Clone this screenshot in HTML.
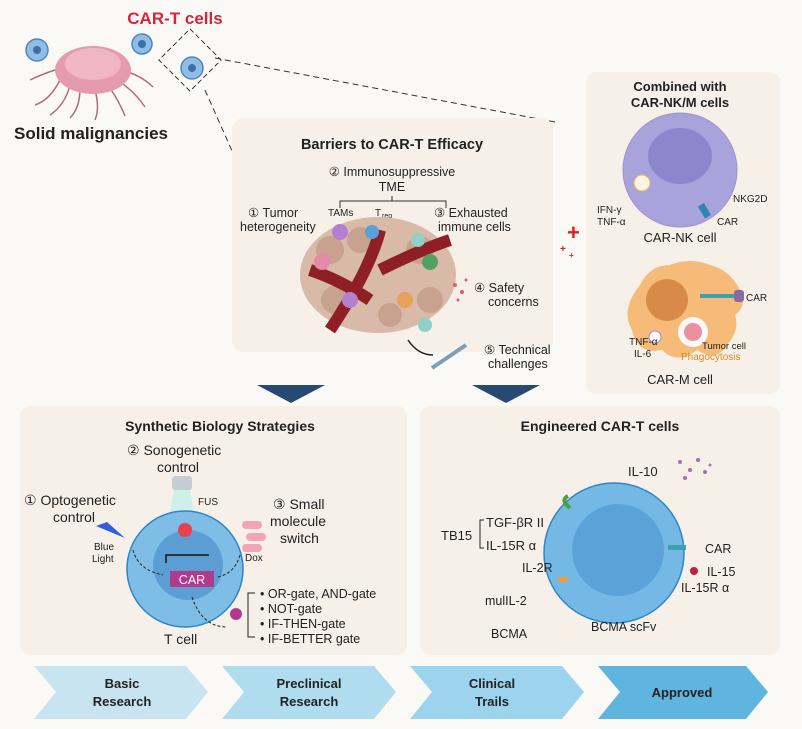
<!DOCTYPE html>
<html><head><meta charset="utf-8"><style>
html,body{margin:0;padding:0;background:#fbf9f5;}
svg{display:block;font-family:"Liberation Sans",sans-serif;}
</style></head><body>
<svg width="802" height="729" viewBox="0 0 802 729">
<rect width="802" height="729" fill="#fbf9f5"/>
<!-- top-left -->
<text x="175" y="24" font-size="17" font-weight="bold" fill="#d3263c" text-anchor="middle">CAR-T cells</text>
<g stroke="#b06a7c" stroke-width="1.5" fill="none">
<path d="M60 80 q-10 20 -25 25 M70 85 q-5 20 -20 30 M80 88 q0 20 -10 30 M95 90 q5 18 0 30 M110 88 q10 15 15 28 M120 82 q15 10 25 25 M128 72 q15 5 25 15 M55 70 q-15 5 -25 10"/>
</g>
<ellipse cx="93" cy="70" rx="38" ry="24" fill="#e69aad"/>
<ellipse cx="93" cy="64" rx="28" ry="16" fill="#f1b6c3"/>
<g fill="#8fbde5" stroke="#4f86c0" stroke-width="1.5">
<circle cx="37" cy="50" r="11"/><circle cx="142" cy="44" r="10"/><circle cx="192" cy="68" r="11"/>
</g>
<g fill="#3b6fa8"><circle cx="37" cy="50" r="4"/><circle cx="142" cy="44" r="4"/><circle cx="192" cy="68" r="4"/></g>
<rect x="168" y="38" width="44" height="44" fill="none" stroke="#333" stroke-dasharray="5 3" transform="rotate(45 190 60)"/>
<path d="M215 58 L555 122 M205 90 L236 160" stroke="#333" stroke-dasharray="6 4" fill="none"/>
<text x="14" y="139" font-size="17" font-weight="bold" fill="#222">Solid malignancies</text>

<!-- Barriers panel -->
<rect x="232" y="118" width="321" height="234" rx="12" fill="#f6f0e8"/>
<text x="392" y="149" font-size="14.5" font-weight="bold" fill="#222" text-anchor="middle">Barriers to CAR-T Efficacy</text>
<text x="392" y="176" font-size="12.5" fill="#222" text-anchor="middle">② Immunosuppressive</text>
<text x="392" y="191" font-size="12.5" fill="#222" text-anchor="middle">TME</text>
<path d="M340 208 v-7 h106 v7 M392 196 v5" stroke="#333" fill="none"/>
<text x="328" y="216" font-size="10" fill="#222">TAMs</text><text x="375" y="216" font-size="10" fill="#222">T</text><text x="382" y="218" font-size="7" fill="#222">reg</text>
<text x="248" y="217" font-size="12.5" fill="#222">① Tumor</text>
<text x="240" y="231" font-size="12.5" fill="#222">heterogeneity</text>
<text x="434" y="217" font-size="12.5" fill="#222">③ Exhausted</text>
<text x="438" y="231" font-size="12.5" fill="#222">immune cells</text>
<ellipse cx="378" cy="275" rx="78" ry="58" fill="#d9b9a8"/>
<g fill="#c9a18f"><circle cx="330" cy="250" r="14"/><circle cx="360" cy="240" r="13"/><circle cx="420" cy="250" r="14"/><circle cx="335" cy="300" r="14"/><circle cx="430" cy="300" r="13"/><circle cx="390" cy="315" r="12"/></g>
<path d="M330 330 Q370 270 380 230 M380 270 Q420 250 450 240 M370 300 Q340 280 310 270" stroke="#8e1f26" stroke-width="12" fill="none"/>
<g><circle cx="340" cy="232" r="8" fill="#b47fd0"/><circle cx="372" cy="232" r="7" fill="#5aa0d8"/><circle cx="322" cy="262" r="8" fill="#e28aa8"/><circle cx="430" cy="262" r="8" fill="#55a060"/><circle cx="418" cy="240" r="7" fill="#8fd0c8"/><circle cx="350" cy="300" r="8" fill="#b47fd0"/><circle cx="405" cy="300" r="8" fill="#e9a05a"/><circle cx="425" cy="325" r="7" fill="#8fd0c8"/></g>
<text x="474" y="292" font-size="12.5" fill="#222">④ Safety</text>
<text x="488" y="306" font-size="12.5" fill="#222">concerns</text>
<g fill="#e05a74"><circle cx="455" cy="285" r="2"/><circle cx="462" cy="292" r="2"/><circle cx="458" cy="300" r="1.5"/><circle cx="466" cy="280" r="1.5"/></g>
<path d="M408 340 q10 15 25 15" stroke="#222" fill="none" stroke-width="1.5"/>
<path d="M432 368 L466 345" stroke="#7aa0b8" stroke-width="4"/>
<text x="484" y="354" font-size="12.5" fill="#222">⑤ Technical</text>
<text x="488" y="368" font-size="12.5" fill="#222">challenges</text>

<!-- Right panel -->
<rect x="586" y="72" width="194" height="322" rx="10" fill="#f6f0e8"/>
<text x="680" y="91" font-size="13" font-weight="bold" fill="#222" text-anchor="middle">Combined with</text>
<text x="680" y="107" font-size="13" font-weight="bold" fill="#222" text-anchor="middle">CAR-NK/M cells</text>
<circle cx="680" cy="170" r="57" fill="#a9a3dc" stroke="#9a93cf"/>
<ellipse cx="680" cy="156" rx="32" ry="28" fill="#8d86cc"/>
<circle cx="642" cy="183" r="8" fill="#fff4e0" stroke="#e6b56a"/>
<text x="597" y="213" font-size="10" fill="#222">IFN-γ</text>
<text x="597" y="225" font-size="10" fill="#222">TNF-α</text>
<rect x="701" y="204" width="7" height="14" fill="#2f84b5" transform="rotate(-30 704 211)"/>
<text x="733" y="202" font-size="10" fill="#222">NKG2D</text>
<text x="717" y="225" font-size="10" fill="#222">CAR</text>
<text x="680" y="242" font-size="13" fill="#222" text-anchor="middle">CAR-NK cell</text>
<path d="M640 285 q10-20 30-20 q20-8 40 0 q20 5 30 25 q8 15 -5 25 q5 15 -8 30 q-10 18 -30 5 q-20 15 -35 0 q-25 5 -30 -20 q-12-20 8-45z" fill="#f6bb78"/>
<circle cx="667" cy="300" r="21" fill="#d88b48"/>
<circle cx="693" cy="332" r="15" fill="#fbf9f5"/>
<circle cx="693" cy="332" r="9" fill="#ec8f9f"/>
<rect x="700" y="294" width="34" height="4" fill="#3fa0b0"/>
<rect x="734" y="290" width="10" height="12" rx="3" fill="#8a6aa0"/>
<text x="746" y="301" font-size="10" fill="#222">CAR</text>
<circle cx="655" cy="337" r="6" fill="#fff" stroke="#a08ac0"/>
<text x="629" y="345" font-size="10" fill="#222">TNF-α</text>
<text x="634" y="357" font-size="10" fill="#222">IL-6</text>
<text x="702" y="349" font-size="9.5" fill="#222">Tumor cell</text>
<text x="681" y="360" font-size="10" fill="#d68a2a">Phagocytosis</text>
<text x="680" y="384" font-size="13" fill="#222" text-anchor="middle">CAR-M cell</text>
<text x="567" y="240" font-size="22" font-weight="bold" fill="#e02020">+</text>
<text x="560" y="252" font-size="10" font-weight="bold" fill="#e02020">+</text>
<text x="569" y="258" font-size="8" font-weight="bold" fill="#e02020">+</text>

<!-- arrows -->
<path d="M257 385 L325 385 L291 403z" fill="#274a72"/>
<path d="M472 385 L540 385 L506 403z" fill="#274a72"/>

<!-- Synthetic panel -->
<rect x="20" y="406" width="387" height="249" rx="10" fill="#f6f0e8"/>
<text x="220" y="431" font-size="14" font-weight="bold" fill="#222" text-anchor="middle">Synthetic Biology Strategies</text>
<text x="127" y="455" font-size="14" fill="#222">② Sonogenetic</text>
<text x="157" y="472" font-size="14" fill="#222">control</text>
<rect x="172" y="476" width="20" height="14" rx="3" fill="#c5ccd3"/>
<path d="M174 490 h16 l4 22 h-24z" fill="#bfeef0" opacity="0.7"/>
<text x="198" y="505" font-size="10" fill="#222">FUS</text>
<text x="24" y="505" font-size="14" fill="#222">① Optogenetic</text>
<text x="53" y="522" font-size="14" fill="#222">control</text>
<path d="M96 526 L107 522 L125 538z" fill="#2f5fe0"/>
<text x="94" y="550" font-size="10" fill="#222">Blue</text>
<text x="92" y="562" font-size="10" fill="#222">Light</text>
<circle cx="185" cy="569" r="58" fill="#7dbde6" stroke="#2f86c5" stroke-width="1.5"/>
<circle cx="188" cy="565" r="35" fill="#5c9dd3"/>
<circle cx="185" cy="530" r="7" fill="#e84050"/>
<path d="M166 563 v-8 h43" stroke="#111" stroke-width="1.5" fill="none"/>
<rect x="170" y="571" width="44" height="16" fill="#b23a8e"/>
<text x="192" y="584" font-size="12.5" fill="#fff" text-anchor="middle">CAR</text>
<path d="M133 550 q5 20 30 25 M240 555 q-5 18 -22 22 M192 597 q10 30 35 30" stroke="#222" stroke-dasharray="3 2" fill="none"/>
<text x="273" y="509" font-size="14" fill="#222">③ Small</text>
<text x="270" y="526" font-size="14" fill="#222">molecule</text>
<text x="280" y="543" font-size="14" fill="#222">switch</text>
<rect x="242" y="521" width="20" height="8" rx="4" fill="#f2a5b6"/>
<rect x="246" y="533" width="20" height="8" rx="4" fill="#f2a5b6"/>
<rect x="242" y="544" width="20" height="8" rx="4" fill="#f2a5b6"/>
<text x="245" y="561" font-size="10" fill="#222">Dox</text>
<circle cx="236" cy="614" r="6" fill="#b23a8e"/>
<text x="164" y="644" font-size="14" fill="#222">T cell</text>
<path d="M255 593 h-7 v44 h7" stroke="#222" fill="none"/>
<g font-size="12.5" fill="#222"><text x="260" y="598">•  OR-gate, AND-gate</text><text x="260" y="613">•  NOT-gate</text><text x="260" y="628">•  IF-THEN-gate</text><text x="260" y="643">•  IF-BETTER gate</text></g>

<!-- Engineered panel -->
<rect x="420" y="406" width="360" height="249" rx="10" fill="#f6f0e8"/>
<text x="600" y="431" font-size="14" font-weight="bold" fill="#222" text-anchor="middle">Engineered CAR-T cells</text>
<circle cx="614" cy="553" r="70" fill="#74b9e6" stroke="#2f86c5" stroke-width="1.5"/>
<circle cx="618" cy="550" r="46" fill="#5aa2d8"/>
<text x="628" y="476" font-size="13" fill="#222">IL-10</text>
<g fill="#a070c0"><circle cx="680" cy="462" r="2"/><circle cx="690" cy="470" r="2"/><circle cx="698" cy="460" r="2"/><circle cx="705" cy="472" r="2"/><circle cx="685" cy="478" r="2"/><circle cx="710" cy="465" r="1.5"/></g>
<text x="441" y="540" font-size="13" fill="#222">TB15</text>
<path d="M484 520 h-4 v28 h4" stroke="#222" fill="none"/>
<text x="486" y="527" font-size="13" fill="#222">TGF-βR II</text>
<text x="486" y="550" font-size="13" fill="#222">IL-15R α</text>
<path d="M570 508 q-10 -8 -2 -12" stroke="#4aa040" stroke-width="4" fill="none"/>
<text x="522" y="572" font-size="12.5" fill="#222">IL-2R</text>
<rect x="558" y="577" width="10" height="5" fill="#e6a040"/>
<text x="485" y="605" font-size="12.5" fill="#222">mulIL-2</text>
<text x="491" y="638" font-size="12.5" fill="#222">BCMA</text>
<text x="591" y="631" font-size="12.5" fill="#222">BCMA scFv</text>
<rect x="668" y="545" width="18" height="5" fill="#3fa0b0"/>
<text x="705" y="553" font-size="12.5" fill="#222">CAR</text>
<circle cx="694" cy="571" r="4" fill="#c02040"/>
<text x="707" y="576" font-size="12.5" fill="#222">IL-15</text>
<text x="681" y="592" font-size="12.5" fill="#222">IL-15R α</text>

<!-- chevrons -->
<g>
<path d="M34 666 H186 L208 692 L186 719 H34 L56 692z" fill="#c8e4f0"/>
<path d="M222 666 H374 L396 692 L374 719 H222 L244 692z" fill="#b0dcef"/>
<path d="M410 666 H562 L584 692 L562 719 H410 L432 692z" fill="#9cd3ee"/>
<path d="M598 666 H746 L768 692 L746 719 H598 L620 692z" fill="#5fb5de"/>
</g>
<g font-size="13" font-weight="bold" fill="#222" text-anchor="middle">
<text x="122" y="688">Basic</text><text x="122" y="706">Research</text>
<text x="309" y="688">Preclinical</text><text x="309" y="706">Research</text>
<text x="492" y="688">Clinical</text><text x="492" y="706">Trails</text>
<text x="682" y="697">Approved</text>
</g>
</svg>
</body></html>
